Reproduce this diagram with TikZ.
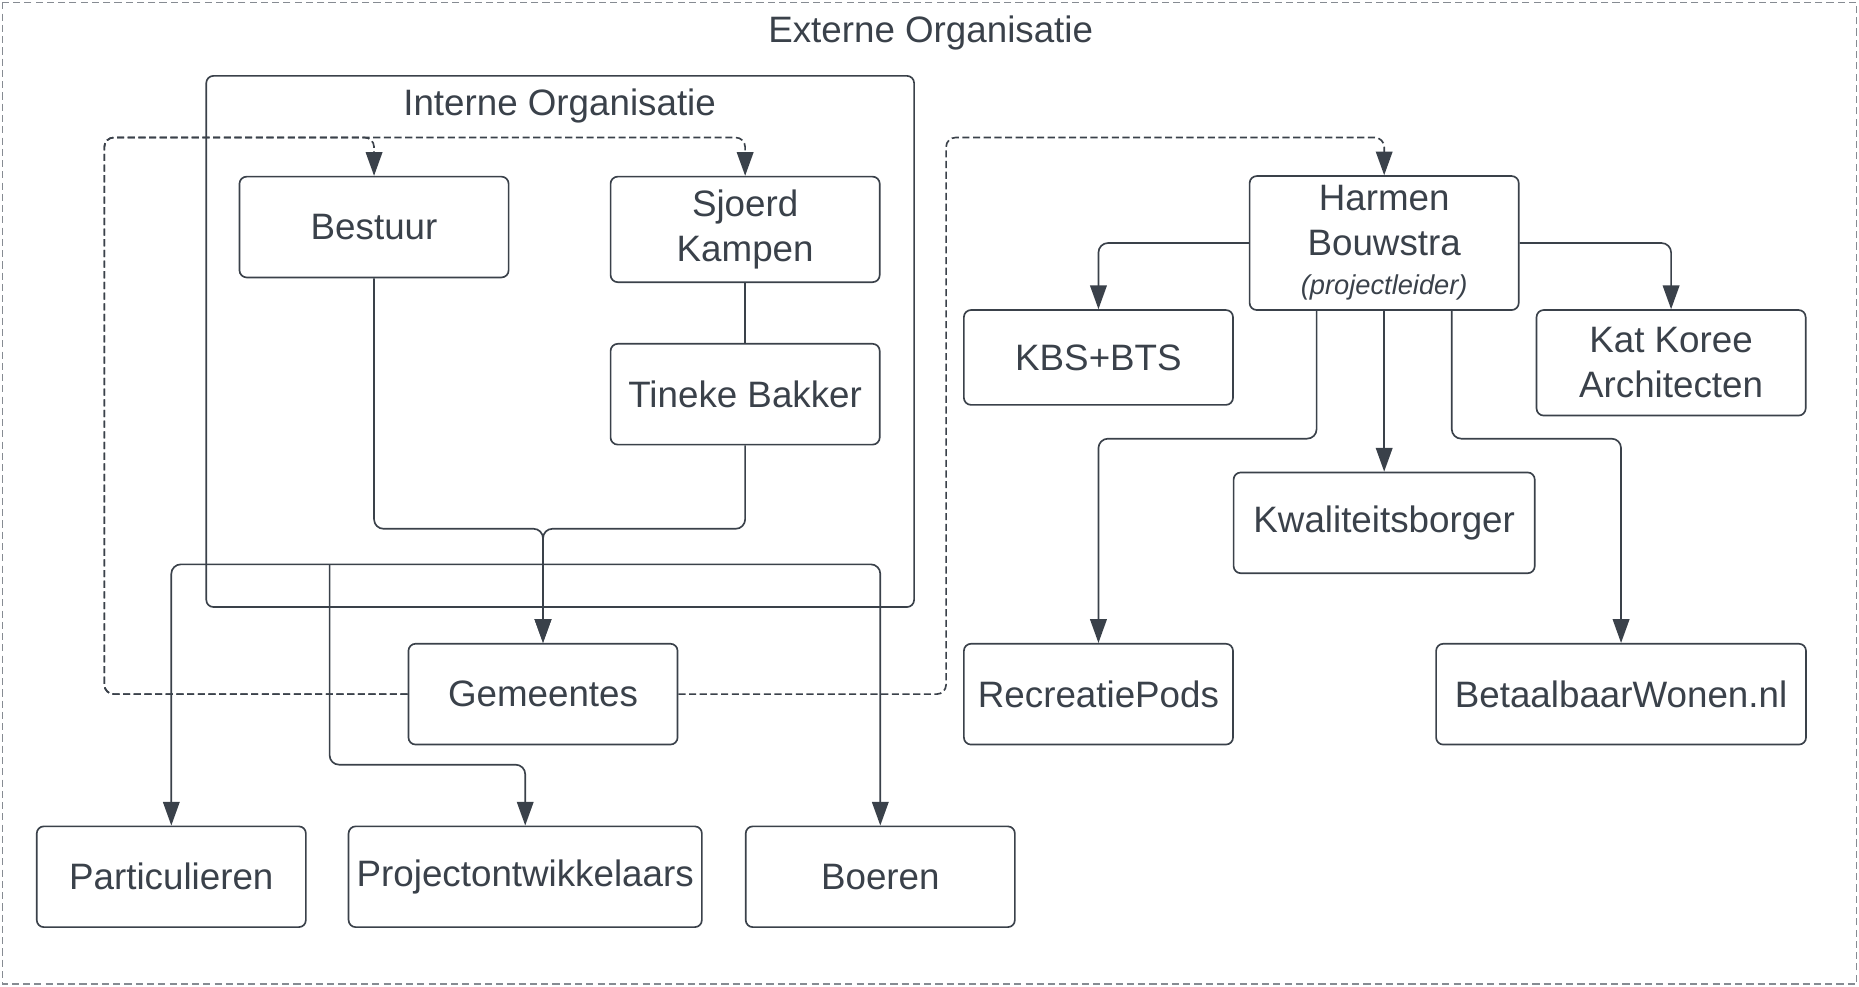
\documentclass[tikz,border=0pt]{standalone}
\usepackage{fontspec}
\setmainfont{Liberation Sans}
\usetikzlibrary{arrows.meta,calc}

\definecolor{ink}{HTML}{3A414A}
\definecolor{rim}{HTML}{868B92}

\begin{document}
\begin{tikzpicture}[x=1pt, y=-1pt,
    every node/.style={font=\fontsize{31}{38}\selectfont, text=ink},
    box/.style={draw=ink, fill=white, line width=1.4pt, rounded corners=6pt,
      minimum width=227pt, minimum height=85pt, inner sep=0pt, align=center},
    link/.style={draw=ink, line width=1.4pt, rounded corners=8pt},
    arr/.style={link, -{Triangle[length=20pt,width=14pt]}},
    dlink/.style={arr, dash pattern=on 6pt off 3pt},
    outerframe/.style={draw=rim, line width=1.1pt, dash pattern=on 6pt off 3.5pt}]

  \useasboundingbox (0,0) rectangle (1568,832);

  % Outer frame
  \draw[outerframe] (2,2) rectangle (1566,830);
  \node (extTitle) at (785,28) {Externe Organisatie};

  % Inner frame
  \draw[link, rounded corners=6pt] (174,64) rectangle (771,512);
  \node (intTitle) at (472,89) {Interne Organisatie};

  % Boxes, left part
  \node[box] (bestuur) at (315.5,191.5) {Bestuur};
  \node[box, minimum height=89pt] (sjoerd) at (628.5,193.5) {Sjoerd\\Kampen};
  \node[box] (tineke) at (628.5,332.5) {Tineke Bakker};
  \node[box] (gemeentes) at (458,585.5) {Gemeentes};
  \node[box] (particulieren) at (144.5,739.5) {Particulieren};
  \node[box, minimum width=298pt] (projectontw) at (443,739.5) {Projectontwikkelaars};
  \node[box] (boeren) at (742.5,739.5) {Boeren};

  % Boxes, right part
  \node[box, minimum height=113pt] (harmen) at (1167.5,205)
    {Harmen\\Bouwstra\\[-5pt]{\fontsize{23}{26}\selectfont\itshape (projectleider)}};
  \node[box, minimum height=80pt] (kbs) at (926.5,301.5) {KBS+BTS};
  \node[box, minimum height=89pt] (katkoree) at (1409.5,306) {Kat Koree\\Architecten};
  \node[box, minimum width=254pt] (kwaliteit) at (1167.5,441) {Kwaliteitsborger};
  \node[box] (recreatie) at (926.5,585.5) {RecreatiePods};
  \node[box, minimum width=312pt] (betaalbaar) at (1367.3,585.5) {BetaalbaarWonen.nl};

  % Bestuur and Tineke join towards Gemeentes
  \coordinate (join) at (458,446);
  \draw[link] (sjoerd) -- (tineke);
  \draw[arr] (bestuur.south) |- (join) -- (gemeentes.north);
  \draw[arr] (tineke.south) |- (join) -- (gemeentes.north);

  % Split to the three groups below
  \coordinate (split) at (458,476);
  \coordinate (tee) at (278,476);
  \coordinate (tap) at (278,645);
  \draw[arr] (split) -| (particulieren.north);
  \draw[arr] (tee) -- (tap) -| (projectontw.north);
  \draw[arr] (split) -| (boeren.north);

  % Dashed links from Gemeentes
  \coordinate (dl) at (88,116);
  \coordinate (dr) at (798,116);
  \draw[dlink] (gemeentes.west) -| (dl) -| (bestuur.north);
  \draw[dlink] (gemeentes.west) -| (dl) -| (sjoerd.north);
  \draw[dlink] (gemeentes.east) -| (dr) -| (harmen.north);

  % Harmen Bouwstra to the partners
  \coordinate (mid) at (1167,370);
  \draw[arr] (harmen.west) -| (kbs.north);
  \draw[arr] (harmen.east) -| (katkoree.north);
  \draw[arr] (harmen.south) -- (kwaliteit.north);
  \draw[arr] ([xshift=-57pt]harmen.south) -- ([xshift=-57pt]harmen.south |- mid)
    -| (recreatie.north);
  \draw[arr] ([xshift=57pt]harmen.south) -- ([xshift=57pt]harmen.south |- mid)
    -| (betaalbaar.north);

\end{tikzpicture}
\end{document}
